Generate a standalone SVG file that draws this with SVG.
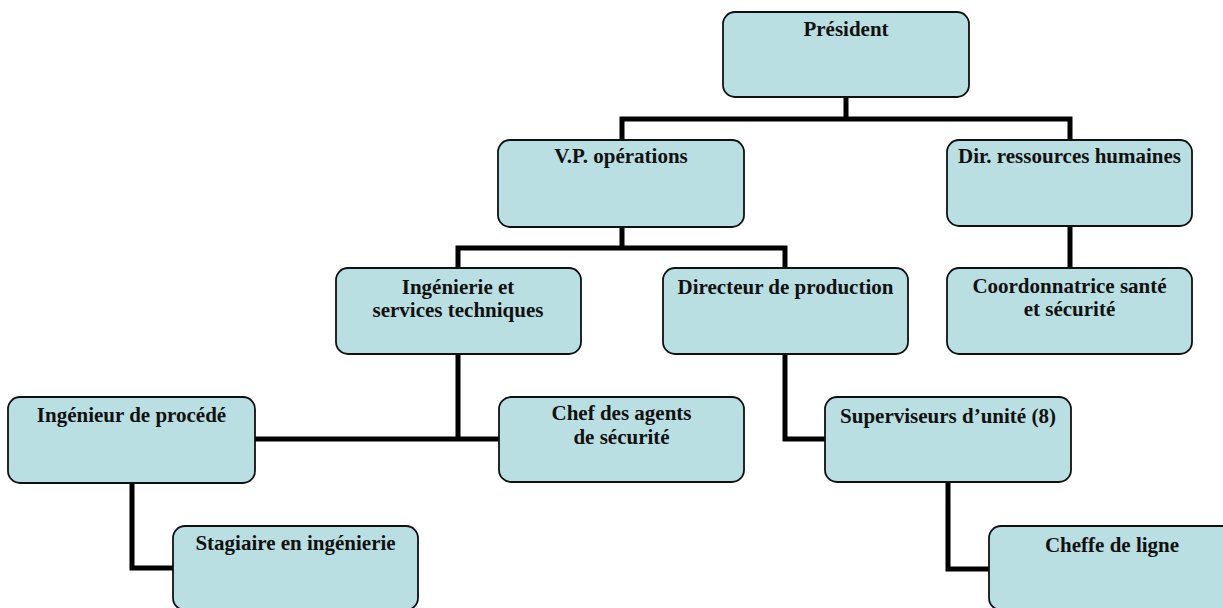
<svg xmlns="http://www.w3.org/2000/svg" width="1223" height="608" viewBox="0 0 1223 608">
<style>
.box{fill:#b9dfe2;stroke:#111;stroke-width:1.8}
.t{font-family:"Liberation Serif","Times New Roman",serif;font-weight:bold;font-size:21px;fill:#111;text-anchor:middle}
.c{fill:none;stroke:#000;stroke-width:5;stroke-linejoin:miter;stroke-linecap:square}
</style>
<rect width="1223" height="608" fill="#fff"/>
<g id="connectors">
<path class="c" d="M846 97V119M622 119H1070M622 119V140M1070 119V140"/>
<path class="c" d="M622 227V248M458 248H785M458 248V268M785 248V268"/>
<path class="c" d="M1070 226V268"/>
<path class="c" d="M458 354V439M255 439H499"/>
<path class="c" d="M785 354V439H825"/>
<path class="c" d="M132 483V568H173"/>
<path class="c" d="M948 482V569H989"/>
</g>
<g id="president"><rect class="box" x="723" y="12" width="246" height="85" rx="12"/><text class="t" x="846" y="36">Président</text></g>
<g id="vp"><rect class="box" x="498" y="140" width="246" height="87" rx="12"/><text class="t" x="621" y="163">V.P. opérations</text></g>
<g id="drh"><rect class="box" x="947" y="140" width="245" height="86" rx="12"/><text class="t" x="1069.5" y="163">Dir. ressources humaines</text></g>
<g id="ing"><rect class="box" x="336" y="268" width="245" height="86" rx="12"/><text class="t" x="458" y="294">Ingénierie et</text><text class="t" x="458" y="317">services techniques</text></g>
<g id="dirprod"><rect class="box" x="663" y="268" width="245" height="86" rx="12"/><text class="t" x="785.5" y="294">Directeur de production</text></g>
<g id="coord"><rect class="box" x="947" y="268" width="245" height="86" rx="12"/><text class="t" x="1069.5" y="293">Coordonnatrice santé</text><text class="t" x="1069.5" y="316">et sécurité</text></g>
<g id="ingproc"><rect class="box" x="8" y="397" width="247" height="86" rx="12"/><text class="t" x="131.5" y="422">Ingénieur de procédé</text></g>
<g id="chef"><rect class="box" x="499" y="397" width="245" height="85" rx="12"/><text class="t" x="621.5" y="420">Chef des agents</text><text class="t" x="621.5" y="444">de sécurité</text></g>
<g id="sup"><rect class="box" x="825" y="397" width="246" height="85" rx="12"/><text class="t" x="948" y="423">Superviseurs d’unité (8)</text></g>
<g id="stag"><rect class="box" x="173" y="526" width="245" height="84" rx="12"/><text class="t" x="295.5" y="550">Stagiaire en ingénierie</text></g>
<g id="cheffe"><rect class="box" x="989" y="526" width="246" height="84" rx="12"/><text class="t" x="1112" y="552">Cheffe de ligne</text></g>
</svg>
